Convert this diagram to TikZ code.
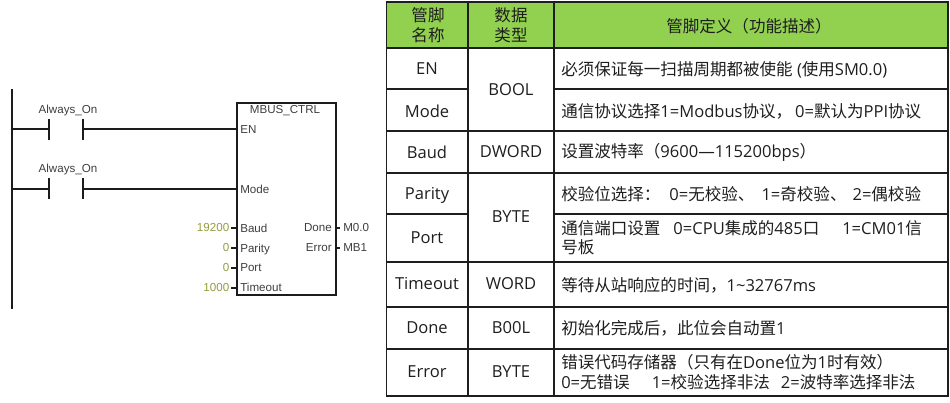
\documentclass[tikz,border=0pt]{standalone}
\usepackage{fontspec}
\setmainfont{Open Sans}
\newfontfamily\cjfont{Noto Sans CJK SC}
\newfontfamily\plcfont{Liberation Sans}
\newcommand{\cj}[1]{{\cjfont #1}}
\newcommand{\gap}[1]{\hspace*{\dimexpr #1pt*3/4\relax}}
\definecolor{hdr}{HTML}{92D050}
\definecolor{ink}{HTML}{1E1E1E}
\definecolor{olivetxt}{HTML}{959B3E}
\definecolor{plcink}{HTML}{1C1C1C}
\tikzset{
  x=0.75pt,y=-0.75pt,
  rule/.style={draw=ink,line width=1.1pt},
  cell/.style={font=\fontsize{12.4}{15}\selectfont,text=ink,inner sep=0pt,align=center},
  desc/.style={font=\fontsize{12.4}{14.5}\selectfont,text=ink,inner sep=0pt,anchor=west,align=left},
  wire/.style={draw=plcink,line width=1.1pt},
  plc/.style={font=\plcfont\fontsize{8.7}{10}\selectfont,text=plcink!85!white,inner sep=0pt},
  val/.style={font=\plcfont\fontsize{8.7}{10}\selectfont,text=olivetxt,inner sep=0pt,anchor=east},
}
\begin{document}
\begin{tikzpicture}
\useasboundingbox (0,0) rectangle (950,403);
% ---- ladder
\coordinate (railT) at (12,89);
\coordinate (railB) at (12,309);
\draw[wire,line width=1.5pt] (railT) -- (railB);
\coordinate (r1) at (12,129);
\coordinate (r2) at (12,189);
\coordinate (c1a) at (49,129);
\coordinate (c1b) at (83,129);
\coordinate (c2a) at (49,189);
\coordinate (c2b) at (83,189);
\node[draw=plcink,line width=1.5pt,minimum width=74.25pt,minimum height=144pt,inner sep=0pt,anchor=north west] (fb) at (236,102) {};
\coordinate (en) at (236,129);
\coordinate (mode) at (236,189);
\draw[wire] (r1) -- (c1a) (c1b) -- (en);
\draw[wire] (r2) -- (c2a) (c2b) -- (mode);
\draw[wire] (49,119) -- (49,140) (83,119) -- (83,140);
\draw[wire] (49,178) -- (49,199) (83,178) -- (83,199);
\node[plc] (a1) at (68,111) {Always\_On};
\node[plc] (a2) at (68,170) {Always\_On};
\node[plc] (title) at (285,111) {MBUS\_CTRL};
\node[plc,anchor=west] (pEN) at (240,129.5) {EN};
\node[plc,anchor=west] (pMode) at (240,189) {Mode};
\node[plc,anchor=west] (pBaud) at (240,228) {Baud};
\node[plc,anchor=west] (pParity) at (240,249) {Parity};
\node[plc,anchor=west] (pPort) at (240,268) {Port};
\node[plc,anchor=west] (pTime) at (240,287.5) {Timeout};
\node[plc,anchor=east] (pDone) at (332,228) {Done};
\node[plc,anchor=east] (pErr) at (332,248) {Error};
\node[val] (vBaud) at (229.5,228) {19200};
\node[val] (vParity) at (229.5,248) {0};
\node[val] (vPort) at (229.5,268) {0};
\node[val] (vTime) at (229.5,288) {1000};
\node[plc,anchor=west] (vDone) at (343,228) {M0.0};
\node[plc,anchor=west] (vErr) at (343,248) {MB1};
\foreach \y in {228,248,268,288} \draw[wire] (231,\y) -- (236,\y);
\foreach \y in {228,248} \draw[wire] (335,\y) -- (340,\y);
% ---- table
\fill[hdr] (386.5,2) rectangle (948,48);
\draw[rule] (386.5,2) rectangle (948,396);
\draw[rule] (468,2) -- (468,396) (554,2) -- (554,396);
\draw[rule] (386.5,48) -- (948,48);
\draw[rule] (386.5,89) -- (468,89) (554,89) -- (948,89);
\draw[rule] (386.5,131) -- (948,131);
\draw[rule] (386.5,173) -- (948,173);
\draw[rule] (386.5,214) -- (468,214) (554,214) -- (948,214);
\draw[rule] (386.5,262) -- (948,262);
\draw[rule] (386.5,307) -- (948,307);
\draw[rule] (386.5,349) -- (948,349);
% header
\node[cell] (h1) at (428,25) {\cj{管脚}\\\cj{名称}};
\node[cell] (h2) at (511,25) {\cj{数据}\\\cj{类型}};
\node[cell] (h3) at (749,26) {\cj{管脚定义（功能描述）}};
% col 1
\node[cell] at (427,69) {EN};
\node[cell] at (427,111) {Mode};
\node[cell] at (427,152) {Baud};
\node[cell] at (427,195) {Parity};
\node[cell] at (427,238) {Port};
\node[cell] at (427,284) {Timeout};
\node[cell] at (427,328) {Done};
\node[cell] at (427,372) {Error};
% col 2
\node[cell] at (511,90) {BOOL};
\node[cell] at (511,152) {DWORD};
\node[cell] at (511,217) {BYTE};
\node[cell] at (511,284) {WORD};
\node[cell] at (511,328) {B00L};
\node[cell] at (511,372) {BYTE};
% col 3
\node[desc] at (561,70) {\cj{必须保证每一扫描周期都被使能} (\cj{使用}SM0.0)};
\node[desc] at (561,111) {\cj{通信协议选择}1=Modbus\cj{协议，}\gap{3}0=\cj{默认为}PPI\cj{协议}};
\node[desc] at (561,152) {\cj{设置波特率（}9600—115200bps\cj{）}};
\node[desc] at (561,194) {\cj{校验位选择：}\gap{9}0=\cj{无校验、}\gap{7}1=\cj{奇校验、}\gap{6}2=\cj{偶校验}};
\node[desc] at (561,238) {\cj{通信端口设置}\gap{13}0=CPU\cj{集成的}485\cj{口}\gap{23}1=CM01\cj{信}\\\cj{号板}};
\node[desc] at (561,285) {\cj{等待从站响应的时间，}1\textasciitilde32767ms};
\node[desc] at (561,328) {\cj{初始化完成后，此位会自动置}1};
\node[desc] at (561,372) {\cj{错误代码存储器（只有在}Done\cj{位为}1\cj{时有效）}\\0=\cj{无错误}\gap{22}1=\cj{校验选择非法}\gap{11}2=\cj{波特率选择非法}};
\end{tikzpicture}
\end{document}
